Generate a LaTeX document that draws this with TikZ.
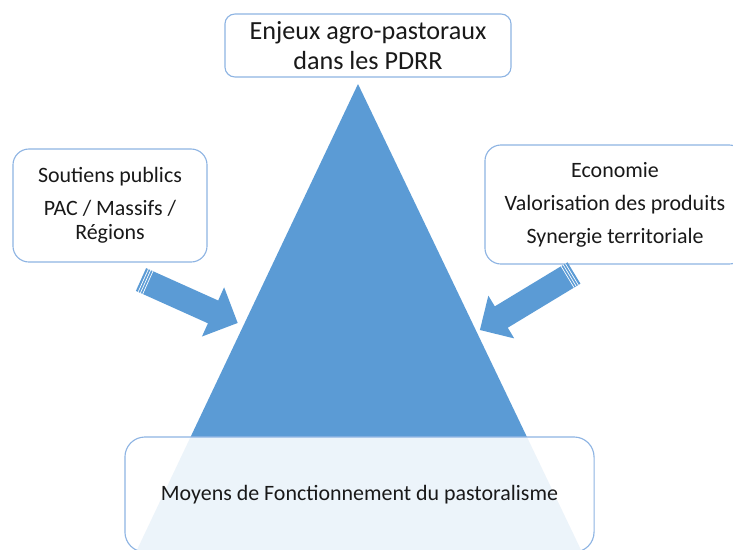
\documentclass[tikz,border=0pt]{standalone}
\usepackage{fontspec}
\setmainfont{Carlito}
\definecolor{pyramblue}{HTML}{5B9BD5}
\definecolor{boxline}{HTML}{8EB4E3}
\begin{document}
\begin{tikzpicture}[x=0.025cm,y=-0.025cm,
        boxnode/.style={draw=boxline,line width=0.8pt,rounded corners=0.4cm,fill=white,align=center,inner sep=0pt,text=black!90},
        bodyfont/.style={font=\fontsize{15.6}{17}\selectfont}]
    \useasboundingbox (0,0) rectangle (733,549);
    \clip (0,0) rectangle (733,549);
    \fill [pyramblue] (358,84) -- (136,552) -- (582,552) -- cycle;
    \node [boxnode,rounded corners=0.25cm,minimum width=7.15cm,minimum height=1.575cm,font=\fontsize{18.6}{21.3}\selectfont] (enjeux) at (368,45.5) {Enjeux agro-pastoraux\\dans les PDRR};
    \node [boxnode,bodyfont,minimum width=4.85cm,minimum height=2.825cm] (soutiens) at (110,205.5) {Soutiens publics\\[6.5pt]PAC / Massifs /\\Régions};
    \node [boxnode,bodyfont,minimum width=6.5cm,minimum height=2.975cm] (economie) at (615,204.5) {Economie\\[6.5pt]Valorisation des produits\\[6.5pt]Synergie territoriale};
    \node [boxnode,bodyfont,fill opacity=0.89,text opacity=1,rounded corners=0.5cm,minimum width=11.725cm,minimum height=2.875cm] (moyens) at (359.5,494.5) {Moyens de Fonctionnement du pastoralisme};
    \foreach \px/\py/\ang/\len/\hw in {141/279.5/-24.2/106/27,574/273/-148.8/110/25}
    {
        \begin{scope}[shift={(\px,\py)},rotate=\ang]
            \fill [pyramblue] (0,-12.5) -- (\len-\hw,-12.5) -- (\len-\hw,-\hw) -- (\len,0) -- (\len-\hw,\hw) -- (\len-\hw,12.5) -- (0,12.5) -- cycle;
            \foreach \s in {2.5,5,7.5}
                \draw [white,line width=0.5pt] (\s,-12.5) -- (\s,12.5);
        \end{scope}
    }
\end{tikzpicture}
\end{document}
